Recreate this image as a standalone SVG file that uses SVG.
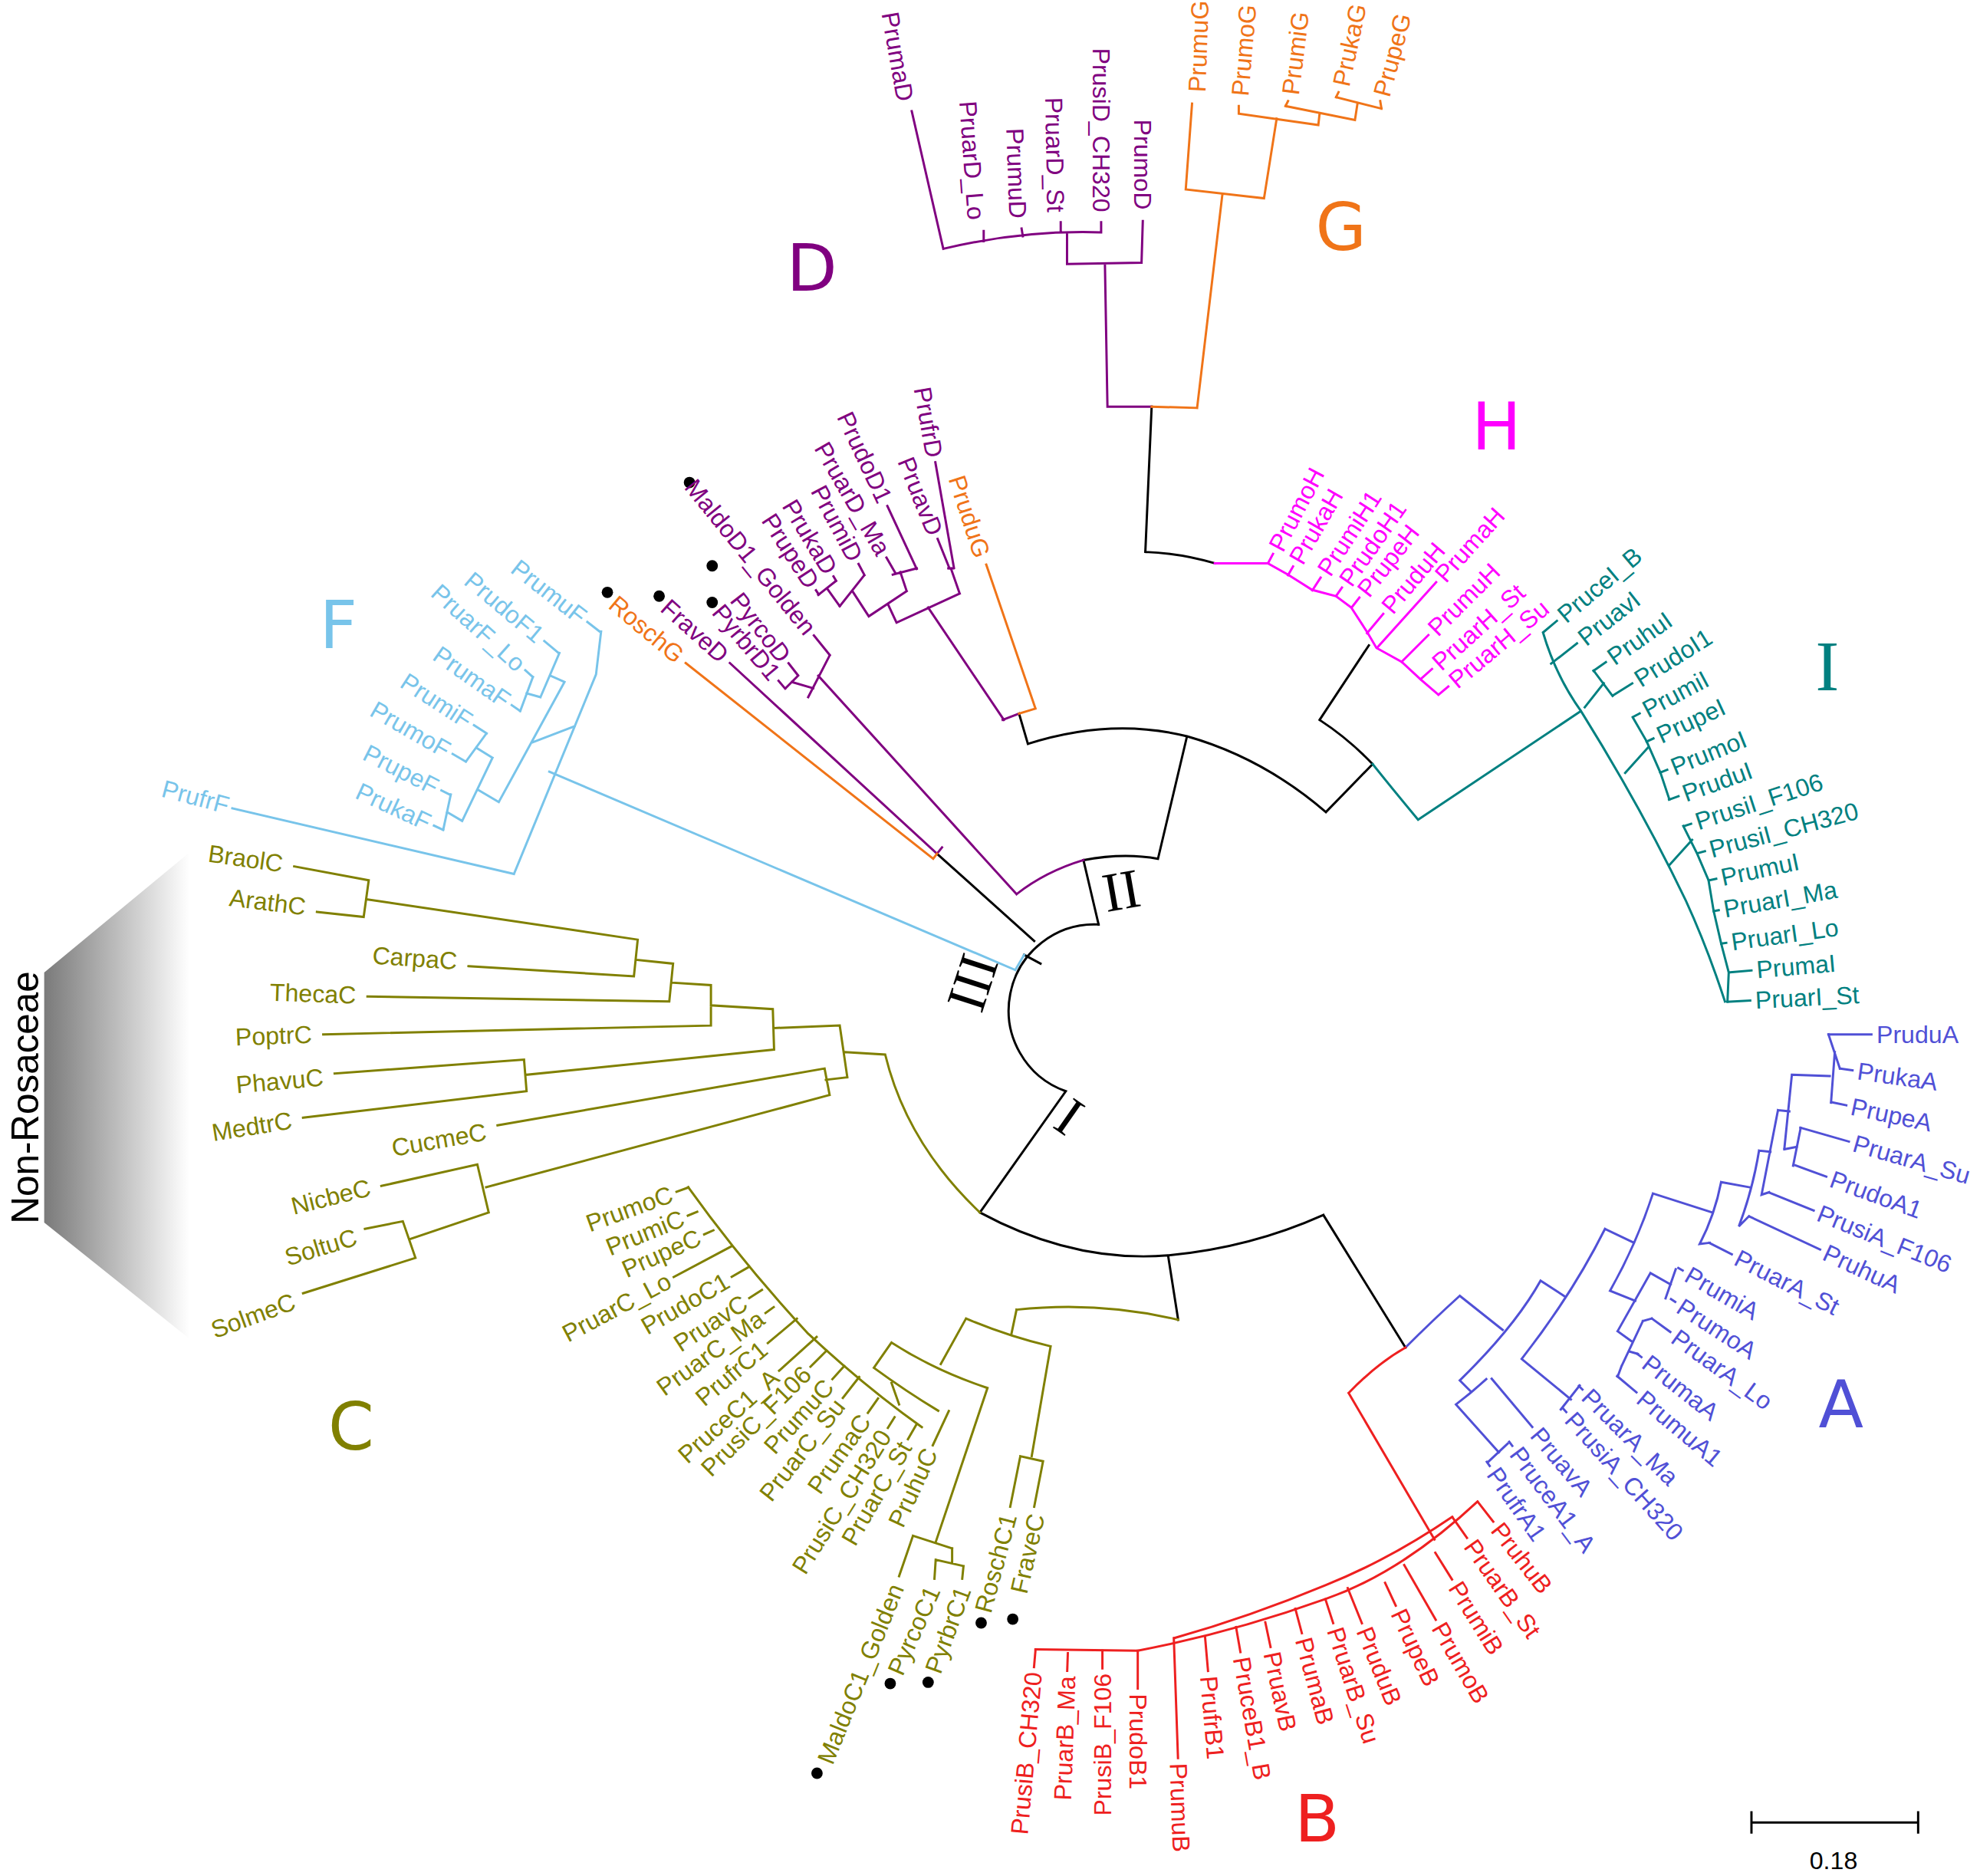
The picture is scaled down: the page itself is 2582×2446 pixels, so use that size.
<svg xmlns="http://www.w3.org/2000/svg" width="2582" height="2446" viewBox="0 0 2582 2446">
<defs>
<linearGradient id="gr" x1="0" y1="0" x2="1" y2="0"><stop offset="0" stop-color="#7a7a7a"/><stop offset="1" stop-color="#ffffff"/></linearGradient>
<style>
path{fill:none;stroke-width:1.8;stroke-linecap:square}
text{font-family:"Liberation Sans",Arial,sans-serif;font-size:19.5px;dominant-baseline:central;stroke:none}
.e{text-anchor:end}
.k{stroke:#000}.p{stroke:#800080}.o{stroke:#f07418}.m{stroke:#ff00ff}.t{stroke:#008080}.b{stroke:#5050d6}.r{stroke:#ee2020}.c{stroke:#808000}.f{stroke:#78c4ea}
.tp{fill:#800080}.to{fill:#f07418}.tm{fill:#ff00ff}.tt{fill:#008080}.tb{fill:#5050d6}.tr{fill:#ee2020}.tc{fill:#808000}.tf{fill:#78c4ea}
.big{font-family:"DejaVu Sans","Liberation Sans",sans-serif;font-size:52px;text-anchor:middle}
.rom{font-family:"Liberation Serif","DejaVu Serif",serif;font-size:44px;text-anchor:middle;fill:#000}
</style>
</defs>
<rect width="2582" height="2446" fill="#fff"/>
<g transform="scale(1.6467)">
<g id="nonrosaceae-bracket">
<polygon points="35,770 150,675 150,1060 35,968" fill="url(#gr)"/>
<text transform="translate(20,869) rotate(-90)" style="font-size:30px;text-anchor:middle" fill="#000">Non-Rosaceae</text>
</g>
<g id="connectors">
<path class="k" d="M776,960 L844,864 A68,68 0 0 1 870,732 M870,732 L858,681 M858,681 Q890,675 917,680 L940,583 M814,589 Q880,568 940,583 Q1000,600 1050,643 M807,565 L814,589 M1050,643 L1087,605 M1045,570 Q1068,585 1087,605 M1084,511 L1045,570 M907,437 Q935,438 962,446 M907,437 L912,322 M824,763 L811,756 M819,745 L742,676 M776,960 Q850,1000 925,994 Q990,988 1048,962 M925,994 L933,1045 M1048,962 L1113,1067"/>
<path class="f" d="M811,756 L804,768 M804,768 L435,611 M184,640 L407,692 M407,692 L472,534 L476,500 M422,536 L412,563 M417,549 L428,552 M443,517 L428,552 M436,535 L447,540 M385,581 L369,603 M377,592 L390,600 M357,629 L351,657 M354,643 L366,650 M390,600 L366,650 M378,625 L395,635 M447,540 L395,635 M421,588 L455,575"/>
<path class="p" d="M805,708 Q828,690 858,681 M657,519 L640,552 M648,535 L805,708 M632,535 L622,545 M627,540 L644,545 M578,525 L742,676 L746,671 M648,471 L662,460 M655,466 L665,480 M665,480 L684,456 M675,468 L688,488 M707,455 L726,450 M713,453 L718,468 M688,488 L718,468 M703,478 L710,493 M751,450 L755,450 M753,450 L760,470 M710,493 L760,470 M735,481 L795,570 M794,570 L807,565"/>
<path class="o" d="M543,525 L739,680 L742,676 M807,565 L820,561 M781,447 L820,561"/>
<path class="p" d="M722,88 L747,197 M779,183 L779,191 M809,181 L810,187 M840,176 L840,183 M872,176 L872,184 M747,197 Q810,182 872,184 M905,175 L904,208 M845,184 L845,209 L904,208 M875,209 L877,322 M877,322 L912,322"/>
<path class="o" d="M912,322 L948,323 M968,154 L948,323 M944,82 L939,150 L1001,157 L1011,94 M981,84 L981,90 L1044,99 L1045,90 M1018,84 L1073,95 L1075,82 M1020,80 L1018,84 M1058,77 L1094,86 M1060,73 L1058,77 M1093,80 L1094,86"/>
<path class="m" d="M962,446 L1004,446 L1020,455 L1039,467 L1058,472 L1070,481 L1083,501 L1090,513 L1110,524 L1125,538 L1139,550"/>
<path class="t" d="M1087,605 Q1103,625 1123,649 L1252,563 M1222,501 Q1232,535 1252,563 Q1300,640 1335,713 Q1352,750 1366,793 M1262,531 L1277,551 M1270,541 L1255,560 M1293,568 L1304,587 L1315,612 L1322,633 M1305,592 L1287,612 M1333,654 L1344,676 L1353,697 L1357,721 L1363,747 L1369,770 L1368,793 M1340,665 L1322,685"/>
<path class="b" d="M1113,1067 Q1135,1045 1156,1026 L1190,1053 M1220,1014 Q1200,1050 1156,1093 L1164,1101 M1177,1092 Q1165,1103 1153,1112 L1187,1150 M1194,1143 L1178,1158 M1220,1014 L1240,1027 M1271,973 Q1245,1025 1205,1076 L1244,1108 M1251,1097 L1236,1116 M1271,973 L1294,984 M1309,945 Q1296,985 1275,1022 L1295,1030 M1307,1008 L1281,1054 M1307,1008 L1323,1017 M1327,1005 L1319,1028 M1281,1054 L1292,1062 M1301,1046 L1284,1082 M1301,1046 L1308,1044 M1290,1070 L1297,1072 M1284,1082 L1281,1090 M1309,945 L1356,960 M1363,936 Q1358,962 1346,985 L1354,984 M1363,936 L1385,940 M1393,911 Q1388,942 1377,971 L1385,963 M1393,911 L1402,912 M1408,879 L1395,946 L1401,944 M1408,879 L1417,880 M1419,851 L1413,910 M1413,910 L1423,908 M1426,893 L1420,923 M1419,851 L1449,852 M1450,873 L1453,833 M1448,819 L1457,846"/>
<path class="r" d="M1068,1103 Q1090,1080 1113,1067 M1068,1103 L1136,1219 M1170,1189 Q1110,1245 1050,1266 Q975,1293 901,1307 L820,1306 M1150,1201 Q1100,1235 1050,1255 Q990,1280 930,1297"/>
<path class="c" d="M233,686 L292,697 L288,726 L251,722 M290,712 L505,744 L502,773 L371,765 M504,760 L533,763 L530,793 L291,789 M532,778 L563,780 L563,812 L256,819 M563,796 L612,799 L613,831 M265,850 L415,839 L417,864 L240,885 M417,851 L613,831 M613,814 L665,812 L671,853 M394,891 L653,846 L657,867 M385,940 L657,867 M654,855 L671,853 M302,939 L378,922 L387,960 M289,973 L319,967 L329,996 L240,1024 M325,981 L387,960 M669,833 L701,835 Q718,905 776,960"/>
<path class="c" d="M805,1037 Q870,1030 933,1045 M805,1037 L801,1056 M765,1044 Q798,1058 832,1066 M765,1044 L745,1080 M706,1063 Q740,1085 782,1099 M706,1063 L692,1083 Q718,1102 743,1117 M782,1099 L741,1221 M723,1216 L754,1226 M754,1226 L754,1238 M741,1235 L763,1240 M723,1216 L712,1248 M741,1235 L740,1250 M763,1240 L762,1250 M832,1066 L817,1153 M808,1153 L826,1157 M808,1153 L800,1193 M826,1157 L819,1193 M545,940 Q588,1000 640,1056 Q685,1098 730,1130 M712,1112 L706,1095"/>
</g>
<g id="leaves-F">
<g id="PrumuF" transform="translate(462,490) rotate(38)"><path class="f" d="M4,0H16"/><text class="e tf">PrumuF</text></g>
<g id="PrudoF1" transform="translate(428,505) rotate(40)"><path class="f" d="M4,0H19"/><text class="e tf">PrudoF1</text></g>
<g id="PruarF_Lo" transform="translate(413,528) rotate(42)"><path class="f" d="M4,0H12"/><text class="e tf">PruarF_Lo</text></g>
<g id="PrumaF" transform="translate(402,556) rotate(35)"><path class="f" d="M4,0H12"/><text class="e tf">PrumaF</text></g>
<g id="PrumiF" transform="translate(372,572) rotate(33)"><path class="f" d="M4,0H16"/><text class="e tf">PrumiF</text></g>
<g id="PrumoF" transform="translate(355,595) rotate(30)"><path class="f" d="M4,0H16"/><text class="e tf">PrumoF</text></g>
<g id="PrupeF" transform="translate(346,624) rotate(27)"><path class="f" d="M4,0H12"/><text class="e tf">PrupeF</text></g>
<g id="PrukaF" transform="translate(340,652) rotate(25)"><path class="f" d="M4,0H12"/><text class="e tf">PrukaF</text></g>
<g id="PrufrF" transform="translate(181,638) rotate(15)"><text class="e tf">PrufrF</text></g>
</g>
<g id="leaves-D">
<circle cx="546" cy="382" r="4.5"/><circle cx="564" cy="448" r="4.5"/><circle cx="564" cy="477" r="4.5"/><circle cx="522" cy="472" r="4.5"/><circle cx="481" cy="469" r="4.5"/>
<g id="MaldoD1_Golden" transform="translate(642,500) rotate(51)"><path class="p" d="M4,0H24"/><text class="e tp">MaldoD1_Golden</text></g>
<g id="PyrcoD" transform="translate(622,522) rotate(52)"><path class="p" d="M4,0H16"/><text class="e tp">PyrcoD</text></g>
<g id="PyrbrD1" transform="translate(614,536) rotate(50)"><path class="p" d="M4,0H12"/><text class="e tp">PyrbrD1</text></g>
<g id="FraveD" transform="translate(574,521) rotate(42)"><text class="e tp">FraveD</text></g>
<g id="RoschG" transform="translate(539,521) rotate(40)"><text class="e to">RoschG</text></g>
<g id="PrupeD" transform="translate(644,464) rotate(57)"><path class="p" d="M4,0H8"/><text class="e tp">PrupeD</text></g>
<g id="PrukaD" transform="translate(658,453) rotate(59)"><path class="p" d="M4,0H8"/><text class="e tp">PrukaD</text></g>
<g id="PrumiD" transform="translate(678,443) rotate(62)"><path class="p" d="M4,0H14"/><text class="e tp">PrumiD</text></g>
<g id="PruarD_Ma" transform="translate(700,438) rotate(60)"><path class="p" d="M4,0H18"/><text class="e tp">PruarD_Ma</text></g>
<g id="PrudoD1" transform="translate(701,397) rotate(65)"><path class="p" d="M4,0H59"/><text class="e tp">PrudoD1</text></g>
<g id="PruavD" transform="translate(741,423) rotate(68)"><path class="p" d="M4,0H29"/><text class="e tp">PruavD</text></g>
<g id="PrufrD" transform="translate(740,362) rotate(80)"><path class="p" d="M4,0H89"/><text class="e tp">PrufrD</text></g>
<g id="PruduG" transform="translate(778,441) rotate(72)"><text class="e to">PruduG</text></g>
<g id="PrumaD" transform="translate(717,80) rotate(80)"><text class="e tp">PrumaD</text></g>
<g id="PruarD_Lo" transform="translate(773,174) rotate(86)"><text class="e tp">PruarD_Lo</text></g>
<g id="PrumuD" transform="translate(806,173) rotate(88)"><text class="e tp">PrumuD</text></g>
<g id="PruarD_St" transform="translate(836,168) rotate(89)"><text class="e tp">PruarD_St</text></g>
<g id="PrusiD_CH320" transform="translate(872,168) rotate(90)"><text class="e tp">PrusiD_CH320</text></g>
<g id="PrumoD" transform="translate(905,166) rotate(90)"><text class="e tp">PrumoD</text></g>
</g>
<g id="leaves-G">
<g id="PrumuG" transform="translate(948,73) rotate(-88)"><text class="to">PrumuG</text></g>
<g id="PrumoG" transform="translate(982,76) rotate(-85)"><text class="to">PrumoG</text></g>
<g id="PrumiG" transform="translate(1022,75) rotate(-83)"><text class="to">PrumiG</text></g>
<g id="PrukaG" transform="translate(1062,68) rotate(-78)"><text class="to">PrukaG</text></g>
<g id="PrupeG" transform="translate(1094,76) rotate(-75)"><text class="to">PrupeG</text></g>
</g>
<g id="leaves-H">
<g id="PrumoH" transform="translate(1010,435) rotate(-62)"><path class="m" d="M-4,0H-12"/><text class="tm">PrumoH</text></g>
<g id="PrukaH" transform="translate(1026,445) rotate(-60)"><path class="m" d="M-4,0H-12"/><text class="tm">PrukaH</text></g>
<g id="PrumiH1" transform="translate(1048,454) rotate(-57)"><path class="m" d="M-4,0H-16"/><text class="tm">PrumiH1</text></g>
<g id="PrudoH1" transform="translate(1065,462) rotate(-55)"><path class="m" d="M-4,0H-12"/><text class="tm">PrudoH1</text></g>
<g id="PrupeH" transform="translate(1079,470) rotate(-52)"><path class="m" d="M-4,0H-14"/><text class="tm">PrupeH</text></g>
<g id="PruduH" transform="translate(1098,483) rotate(-50)"><path class="m" d="M-4,0H-24"/><text class="tm">PruduH</text></g>
<g id="PrumaH" transform="translate(1140,458) rotate(-48)"><path class="m" d="M-4,0H-74"/><text class="tm">PrumaH</text></g>
<g id="PrumuH" transform="translate(1134,500) rotate(-45)"><path class="m" d="M-4,0H-34"/><text class="tm">PrumuH</text></g>
<g id="PruarH_St" transform="translate(1137,527) rotate(-42)"><path class="m" d="M-4,0H-16"/><text class="tm">PruarH_St</text></g>
<g id="PruarH_Su" transform="translate(1150,541) rotate(-40)"><path class="m" d="M-4,0H-14"/><text class="tm">PruarH_Su</text></g>
</g>
<g id="leaves-I">
<g id="PruceI_B" transform="translate(1236,489) rotate(-40)"><path class="t" d="M-4,0H-18"/><text class="tt">PruceI_B</text></g>
<g id="PruavI" transform="translate(1252,507) rotate(-38)"><path class="t" d="M-4,0H-30"/><text class="tt">PruavI</text></g>
<g id="PruhuI" transform="translate(1275,522) rotate(-35)"><path class="t" d="M-4,0H-16"/><text class="tt">PruhuI</text></g>
<g id="PrudoI1" transform="translate(1296,539) rotate(-32)"><path class="t" d="M-4,0H-22"/><text class="tt">PrudoI1</text></g>
<g id="PrumiI" transform="translate(1302,563) rotate(-28)"><path class="t" d="M-4,0H-10"/><text class="tt">PrumiI</text></g>
<g id="PrupeI" transform="translate(1313,583) rotate(-25)"><path class="t" d="M-4,0H-10"/><text class="tt">PrupeI</text></g>
<g id="PrumoI" transform="translate(1324,608) rotate(-22)"><path class="t" d="M-4,0H-10"/><text class="tt">PrumoI</text></g>
<g id="PruduI" transform="translate(1333,629) rotate(-20)"><path class="t" d="M-4,0H-12"/><text class="tt">PruduI</text></g>
<g id="PrusiI_F106" transform="translate(1343,651) rotate(-18)"><path class="t" d="M-4,0H-10"/><text class="tt">PrusiI_F106</text></g>
<g id="PrusiI_CH320" transform="translate(1354,673) rotate(-15)"><path class="t" d="M-4,0H-10"/><text class="tt">PrusiI_CH320</text></g>
<g id="PrumuI" transform="translate(1363,695) rotate(-12)"><path class="t" d="M-4,0H-10"/><text class="tt">PrumuI</text></g>
<g id="PruarI_Ma" transform="translate(1365,720) rotate(-10)"><path class="t" d="M-4,0H-8"/><text class="tt">PruarI_Ma</text></g>
<g id="PruarI_Lo" transform="translate(1371,746) rotate(-8)"><path class="t" d="M-4,0H-8"/><text class="tt">PruarI_Lo</text></g>
<g id="PrumaI" transform="translate(1391,768) rotate(-5)"><path class="t" d="M-4,0H-22"/><text class="tt">PrumaI</text></g>
<g id="PruarI_St" transform="translate(1390,792) rotate(-3)"><path class="t" d="M-4,0H-22"/><text class="tt">PruarI_St</text></g>
</g>
<g id="leaves-A">
<g id="PruduA" transform="translate(1486,819) rotate(0)"><path class="b" d="M-4,0H-38"/><text class="tb">PruduA</text></g>
<g id="PrukaA" transform="translate(1471,848) rotate(8)"><path class="b" d="M-4,0H-14"/><text class="tb">PrukaA</text></g>
<g id="PrupeA" transform="translate(1466,876) rotate(12)"><path class="b" d="M-4,0H-16"/><text class="tb">PrupeA</text></g>
<g id="PruarA_Su" transform="translate(1468,905) rotate(16)"><path class="b" d="M-4,0H-44"/><text class="tb">PruarA_Su</text></g>
<g id="PrudoA1" transform="translate(1450,933) rotate(20)"><path class="b" d="M-4,0H-30"/><text class="tb">PrudoA1</text></g>
<g id="PrusiA_F106" transform="translate(1440,960) rotate(22)"><path class="b" d="M-4,0H-42"/><text class="tb">PrusiA_F106</text></g>
<g id="PruhuA" transform="translate(1445,991) rotate(25)"><path class="b" d="M-4,0H-66"/><text class="tb">PruhuA</text></g>
<g id="PruarA_St" transform="translate(1375,995) rotate(27)"><path class="b" d="M-4,0H-24"/><text class="tb">PruarA_St</text></g>
<g id="PrumiA" transform="translate(1336,1008) rotate(30)"><path class="b" d="M-4,0H-8"/><text class="tb">PrumiA</text></g>
<g id="PrumoA" transform="translate(1330,1033) rotate(33)"><path class="b" d="M-4,0H-8"/><text class="tb">PrumoA</text></g>
<g id="PruarA_Lo" transform="translate(1326,1057) rotate(36)"><path class="b" d="M-4,0H-22"/><text class="tb">PruarA_Lo</text></g>
<g id="PrumaA" transform="translate(1303,1077) rotate(38)"><path class="b" d="M-4,0H-8"/><text class="tb">PrumaA</text></g>
<g id="PrumuA1" transform="translate(1299,1105) rotate(40)"><path class="b" d="M-4,0H-24"/><text class="tb">PrumuA1</text></g>
<g id="PruarA_Ma" transform="translate(1256,1103) rotate(45)"><path class="b" d="M-4,0H-8"/><text class="tb">PruarA_Ma</text></g>
<g id="PrusiA_CH320" transform="translate(1243,1121) rotate(48)"><path class="b" d="M-4,0H-8"/><text class="tb">PrusiA_CH320</text></g>
<g id="PruavA" transform="translate(1216,1133) rotate(50)"><path class="b" d="M-4,0H-54"/><text class="tb">PruavA</text></g>
<g id="PruceA1_A" transform="translate(1200,1148) rotate(53)"><path class="b" d="M-4,0H-8"/><text class="tb">PruceA1_A</text></g>
<g id="PrufrA1" transform="translate(1182,1164) rotate(55)"><path class="b" d="M-4,0H-8"/><text class="tb">PrufrA1</text></g>
</g>
<g id="leaves-B">
<g id="PrusiB_CH320" transform="translate(818.5,1324) rotate(-85)"><path class="r" d="M4,0H18"/><text class="e tr">PrusiB_CH320</text></g>
<g id="PruarB_Ma" transform="translate(845,1327) rotate(-88)"><path class="r" d="M4,0H18"/><text class="e tr">PruarB_Ma</text></g>
<g id="PrusiB_F106" transform="translate(873,1325) rotate(-90)"><path class="r" d="M4,0H18"/><text class="e tr">PrusiB_F106</text></g>
<g id="PrudoB1" transform="translate(901,1341) rotate(90)"><path class="r" d="M-4,0H-34"/><text class="tr">PrudoB1</text></g>
<g id="PrumuB" transform="translate(933,1396) rotate(88)"><path class="r" d="M-4,0H-99"/><text class="tr">PrumuB</text></g>
<g id="PrufrB1" transform="translate(957,1327) rotate(85)"><path class="r" d="M-4,0H-31"/><text class="tr">PrufrB1</text></g>
<g id="PruceB1_B" transform="translate(983,1312) rotate(80)"><path class="r" d="M-4,0H-24"/><text class="tr">PruceB1_B</text></g>
<g id="PruavB" transform="translate(1007,1308) rotate(78)"><path class="r" d="M-4,0H-24"/><text class="tr">PruavB</text></g>
<g id="PrumaB" transform="translate(1032,1297) rotate(75)"><path class="r" d="M-4,0H-24"/><text class="tr">PrumaB</text></g>
<g id="PruarB_Su" transform="translate(1057,1289) rotate(72)"><path class="r" d="M-4,0H-24"/><text class="tr">PruarB_Su</text></g>
<g id="PruduB" transform="translate(1080,1289) rotate(68)"><path class="r" d="M-4,0H-34"/><text class="tr">PruduB</text></g>
<g id="PrupeB" transform="translate(1107,1275) rotate(65)"><path class="r" d="M-4,0H-24"/><text class="tr">PrupeB</text></g>
<g id="PrumoB" transform="translate(1139,1286) rotate(60)"><path class="r" d="M-4,0H-54"/><text class="tr">PrumoB</text></g>
<g id="PrumiB" transform="translate(1152,1254) rotate(58)"><path class="r" d="M-4,0H-29"/><text class="tr">PrumiB</text></g>
<g id="PruarB_St" transform="translate(1164,1221) rotate(55)"><path class="r" d="M-4,0H-24"/><text class="tr">PruarB_St</text></g>
<g id="PruhuB" transform="translate(1185,1208) rotate(52)"><path class="r" d="M-4,0H-24"/><text class="tr">PruhuB</text></g>
</g>
<g id="leaves-C">
<g id="PrumoC" transform="translate(532,945) rotate(-20)"><path class="c" d="M4,0H14"/><text class="e tc">PrumoC</text></g>
<g id="PrumiC" transform="translate(541,964) rotate(-22)"><path class="c" d="M4,0H12"/><text class="e tc">PrumiC</text></g>
<g id="PrupeC" transform="translate(554,979) rotate(-24)"><path class="c" d="M4,0H12"/><text class="e tc">PrupeC</text></g>
<g id="PruarC_Lo" transform="translate(530,1013) rotate(-28)"><path class="c" d="M4,0H56"/><text class="e tc">PruarC_Lo</text></g>
<g id="PrudoC1" transform="translate(576,1013) rotate(-30)"><path class="c" d="M4,0H20"/><text class="e tc">PrudoC1</text></g>
<g id="PruavC" transform="translate(590,1030) rotate(-33)"><path class="c" d="M4,0H16"/><text class="e tc">PruavC</text></g>
<g id="PruarC_Ma" transform="translate(603,1042) rotate(-36)"><path class="c" d="M4,0H12"/><text class="e tc">PruarC_Ma</text></g>
<g id="PrufrC1" transform="translate(605,1066) rotate(-40)"><path class="c" d="M4,0H34"/><text class="e tc">PrufrC1</text></g>
<g id="PruceC1_A" transform="translate(614,1088) rotate(-42)"><path class="c" d="M4,0H44"/><text class="e tc">PruceC1_A</text></g>
<g id="PrusiC_F106" transform="translate(639,1085) rotate(-45)"><path class="c" d="M4,0H22"/><text class="e tc">PrusiC_F106</text></g>
<g id="PrumuC" transform="translate(656.5,1095) rotate(-48)"><path class="c" d="M4,0H18"/><text class="e tc">PrumuC</text></g>
<g id="PruarC_Su" transform="translate(665,1110) rotate(-52)"><path class="c" d="M4,0H25"/><text class="e tc">PruarC_Su</text></g>
<g id="PrumaC" transform="translate(685,1122) rotate(-55)"><path class="c" d="M4,0H18"/><text class="e tc">PrumaC</text></g>
<g id="PrusiC_CH320" transform="translate(701,1134) rotate(-58)"><path class="c" d="M4,0H14"/><text class="e tc">PrusiC_CH320</text></g>
<g id="PruarC_St" transform="translate(717,1143) rotate(-60)"><path class="c" d="M4,0H18"/><text class="e tc">PruarC_St</text></g>
<g id="PruhuC" transform="translate(737,1148) rotate(-65)"><path class="c" d="M4,0H34"/><text class="e tc">PruhuC</text></g>
<circle cx="647" cy="1404" r="4.5"/><circle cx="705" cy="1333" r="4.5"/><circle cx="735" cy="1332" r="4.5"/><circle cx="777" cy="1285" r="4.5"/><circle cx="802" cy="1282" r="4.5"/>
<g id="MaldoC1_Golden" transform="translate(710,1255) rotate(-68)"><text class="e tc">MaldoC1_Golden</text></g>
<g id="PyrcoC1" transform="translate(739,1257) rotate(-66)"><text class="e tc">PyrcoC1</text></g>
<g id="PyrbrC1" transform="translate(763,1257) rotate(-70)"><text class="e tc">PyrbrC1</text></g>
<g id="RoschC1" transform="translate(799,1199) rotate(-75)"><text class="e tc">RoschC1</text></g>
<g id="FraveC" transform="translate(821,1199) rotate(-77)"><text class="e tc">FraveC</text></g>
<g id="BraolC" transform="translate(224,684) rotate(8)"><text class="e tc">BraolC</text></g>
<g id="ArathC" transform="translate(242,718) rotate(7)"><text class="e tc">ArathC</text></g>
<g id="CarpaC" transform="translate(362,761) rotate(4)"><text class="e tc">CarpaC</text></g>
<g id="ThecaC" transform="translate(282,788) rotate(2)"><text class="e tc">ThecaC</text></g>
<g id="PoptrC" transform="translate(247,819) rotate(-2)"><text class="e tc">PoptrC</text></g>
<g id="PhavuC" transform="translate(256,853) rotate(-5)"><text class="e tc">PhavuC</text></g>
<g id="MedtrC" transform="translate(231,887) rotate(-9)"><text class="e tc">MedtrC</text></g>
<g id="CucmeC" transform="translate(385,896) rotate(-10)"><text class="e tc">CucmeC</text></g>
<g id="NicbeC" transform="translate(293,940) rotate(-14)"><text class="e tc">NicbeC</text></g>
<g id="SoltuC" transform="translate(282,979) rotate(-17)"><text class="e tc">SoltuC</text></g>
<g id="SolmeC" transform="translate(233,1030) rotate(-20)"><text class="e tc">SolmeC</text></g>
</g>
<g id="clade-labels">
<text class="big tp" x="643" y="212">D</text>
<text class="big to" x="1062" y="180">G</text>
<text class="big tm" x="1185" y="338">H</text>
<text class="rom" x="1447" y="528" style="fill:#008080;font-size:56px">I</text>
<text class="big tf" x="268" y="495">F</text>
<text class="big tc" x="278" y="1130">C</text>
<text class="big tb" x="1458" y="1112">A</text>
<text class="big tr" x="1043" y="1440">B</text>
<text class="rom" transform="translate(888,705) rotate(-10)">II</text>
<text class="rom" transform="translate(770,778) rotate(-72)">III</text>
<text class="rom" transform="translate(847,884) rotate(35)">I</text>
</g>
<g id="scalebar">
<path class="k" d="M1387,1443 H1519 M1387,1435 V1451 M1519,1435 V1451"/>
<text x="1452" y="1473" style="text-anchor:middle" fill="#000">0.18</text>
</g>
</g>
</svg>
